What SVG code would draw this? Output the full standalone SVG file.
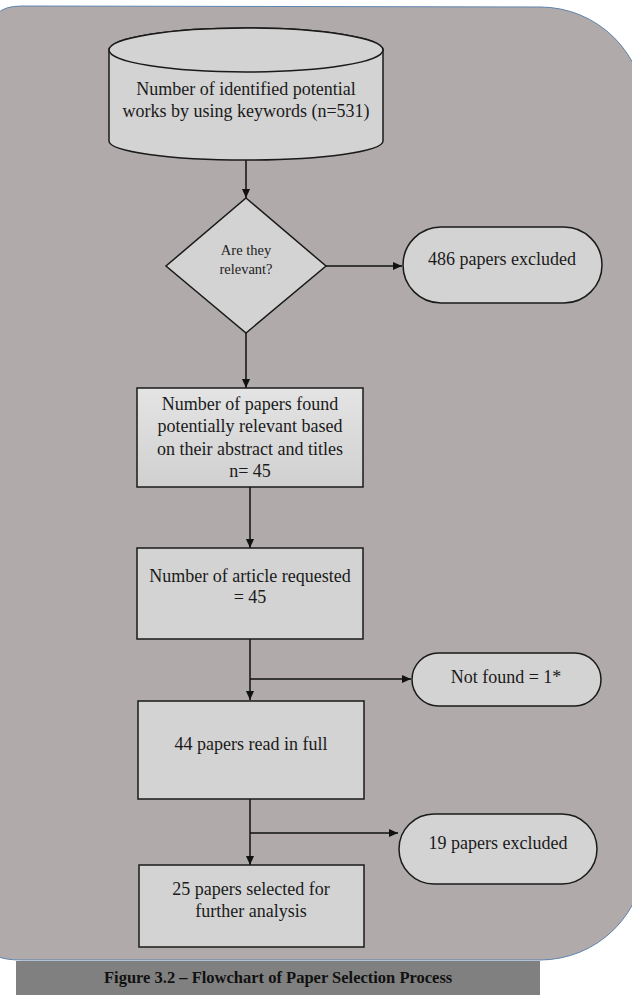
<svg xmlns="http://www.w3.org/2000/svg" width="632" height="996" viewBox="0 0 632 996">
<defs>
<style>
.node{fill:#d3d3d3;stroke:#1a1a1a;stroke-width:1.5}
.t{font-family:"Liberation Serif","Times New Roman",serif;font-size:18px;fill:#1a1a1a;text-anchor:middle}
.ts{font-family:"Liberation Serif","Times New Roman",serif;font-size:14.5px;fill:#222;text-anchor:middle}
.conn{fill:none;stroke:#111;stroke-width:1.5}
</style>
<linearGradient id="g1" x1="0" y1="0" x2="0" y2="1">
<stop offset="0" stop-color="#e4e4e4"/>
<stop offset="1" stop-color="#d0d0d0"/>
</linearGradient>
<marker id="arr" markerWidth="10" markerHeight="10" refX="9" refY="4" orient="auto" markerUnits="userSpaceOnUse">
<path d="M0,0 L9,4 L0,8 Z" fill="#111"/>
</marker>
</defs>
<g id="background">
<path d="M-3 14 Q4 6 22 6 L540 7 A105 105 0 0 1 645 112 L645 855 A105 105 0 0 1 540 960 L22 960 Q4 960 -3 956 Z" fill="#b0abaa" stroke="#5f83ad" stroke-width="1"/>
</g>
<g id="caption">
<rect x="16" y="961" width="524" height="34" fill="#808080"/>
<text x="104" y="983" font-family="Liberation Serif, Times New Roman, serif" font-size="16.5" font-weight="bold" fill="#111">Figure 3.2 – Flowchart of Paper Selection Process</text>
</g>
<g id="connectors">
<path class="conn" d="M246 160 L246 198" marker-end="url(#arr)"/>
<path class="conn" d="M326 266 L402 266" marker-end="url(#arr)"/>
<path class="conn" d="M246 333 L246 388" marker-end="url(#arr)"/>
<path class="conn" d="M250 487 L250 548" marker-end="url(#arr)"/>
<path class="conn" d="M250 639 L250 700" marker-end="url(#arr)"/>
<path class="conn" d="M250 679 L411 679" marker-end="url(#arr)"/>
<path class="conn" d="M250 799 L250 865" marker-end="url(#arr)"/>
<path class="conn" d="M250 833 L398 833" marker-end="url(#arr)"/>
</g>
<g id="n-identified">
<path class="node" d="M109 50 L109 141 A137 19 0 0 0 383 141 L383 50 A137 22 0 0 0 109 50 Z"/>
<ellipse class="node" cx="246" cy="50" rx="137" ry="22"/>
<text class="t" x="246" y="95">Number of identified potential</text>
<text class="t" x="246" y="117">works by using keywords (n=531)</text>
</g>
<g id="n-relevant">
<polygon class="node" points="246,198 326,266 246,333 166,266"/>
<text class="ts" x="246" y="255">Are they</text>
<text class="ts" x="246" y="274">relevant?</text>
</g>
<g id="n-excluded486">
<rect class="node" x="403" y="227" width="199" height="76" rx="38" ry="38"/>
<text class="t" x="502" y="265">486 papers excluded</text>
</g>
<g id="n-found">
<rect class="node" x="137" y="388" width="226" height="99" style="fill:url(#g1)"/>
<text class="t" x="250" y="410">Number of papers found</text>
<text class="t" x="250" y="432">potentially relevant based</text>
<text class="t" x="250" y="455">on their abstract and titles</text>
<text class="t" x="250" y="477">n= 45</text>
</g>
<g id="n-requested">
<rect class="node" x="137" y="548" width="226" height="91"/>
<text class="t" x="250" y="582">Number of article requested</text>
<text class="t" x="250" y="603">= 45</text>
</g>
<g id="n-notfound">
<rect class="node" x="412" y="653" width="189" height="53" rx="26.5" ry="26.5"/>
<text class="t" x="506" y="683">Not found = 1*</text>
</g>
<g id="n-read">
<rect class="node" x="138" y="701" width="226" height="98"/>
<text class="t" x="251" y="750">44 papers read in full</text>
</g>
<g id="n-excluded19">
<rect class="node" x="399" y="814" width="198" height="70" rx="35" ry="35"/>
<text class="t" x="498" y="849">19 papers excluded</text>
</g>
<g id="n-selected">
<rect class="node" x="139" y="865" width="225" height="82"/>
<text class="t" x="251" y="895">25 papers selected for</text>
<text class="t" x="251" y="917">further analysis</text>
</g>
</svg>
